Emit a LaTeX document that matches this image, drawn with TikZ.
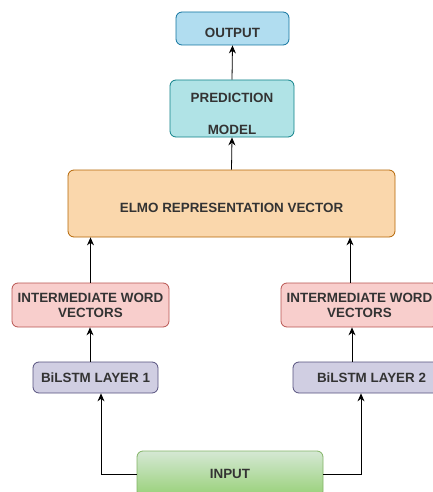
\documentclass[tikz,border=0pt]{standalone}
\usepackage{fontspec}
\setmainfont{Liberation Sans}
\usetikzlibrary{arrows.meta,calc}

\definecolor{outfill}{HTML}{B1DDF0}\definecolor{outline}{HTML}{10739E}
\definecolor{predfill}{HTML}{B0E3E6}\definecolor{predline}{HTML}{0E8088}
\definecolor{elmofill}{HTML}{FAD7AC}\definecolor{elmoline}{HTML}{B46504}
\definecolor{iwfill}{HTML}{F8CECC}\definecolor{iwline}{HTML}{B85450}
\definecolor{lstmfill}{HTML}{D0CEE2}\definecolor{lstmline}{HTML}{56517E}
\definecolor{intop}{HTML}{D5E8D4}\definecolor{inbot}{HTML}{97D077}\definecolor{inline}{HTML}{82B366}
\definecolor{txt}{HTML}{333333}

\begin{document}
\begin{tikzpicture}[x=1pt,y=-1pt,
  box/.style={rectangle, rounded corners=6pt, line width=0.8pt, inner sep=0pt,
    align=center, text=txt, font=\fontsize{13.4}{15}\selectfont\bfseries},
  % single-line label sitting a little below the box centre
  lowtext/.style={text height=17.6pt, text depth=0pt},
  arr/.style={-{Stealth[length=8pt,width=7pt]}, line width=0.8pt, black}]
  \useasboundingbox (0,0) rectangle (433,492);

  % top of the stack
  \node[box, lowtext, fill=outfill, draw=outline, minimum width=113pt, minimum height=33pt]
    (out) at (232.5,28.5) {OUTPUT};
  \node[box, fill=predfill, draw=predline, minimum width=124pt, minimum height=57pt]
    (pred) at (232,108.5) {};
  \node[text=txt, font=\fontsize{13.4}{32}\selectfont\bfseries, align=center]
    (predtext) at (232,114) {PREDICTION\\MODEL};
  \node[box, lowtext, fill=elmofill, draw=elmoline, minimum width=327pt, minimum height=67pt]
    (elmo) at (231.5,203.5) {ELMO REPRESENTATION VECTOR};

  % two branches
  \node[box, fill=iwfill, draw=iwline, minimum width=157pt, minimum height=44pt]
    (iw1) at (90.5,305) {INTERMEDIATE WORD\\VECTORS};
  \node[box, fill=iwfill, draw=iwline, minimum width=157pt, minimum height=44pt]
    (iw2) at (359.5,305) {INTERMEDIATE WORD\\VECTORS};
  \node[box, fill=lstmfill, draw=lstmline, minimum width=125pt, minimum height=31pt]
    (bl1) at (95.5,377.5) {BiLSTM LAYER 1};
  \node[box, fill=lstmfill, draw=lstmline, minimum width=157pt, minimum height=31pt]
    (bl2) at (371.5,377.5) {BiLSTM LAYER 2};

  % input
  \node[box, top color=intop, bottom color=inbot, draw=inline,
    minimum width=186pt, minimum height=46pt] (inp) at (230,474) {INPUT};

  % connector end points on the box edges
  \coordinate (iw2top) at ([xshift=-9.5pt]iw2.north);
  \coordinate (bl1top) at ([xshift=-5.5pt]bl1.north);
  \coordinate (bl2top) at ([xshift=-19.5pt]bl2.north);
  \coordinate (bl1bot) at ([xshift=5.5pt]bl1.south);
  \coordinate (bl2bot) at ([xshift=-10.5pt]bl2.south);

  % connectors
  \draw[arr] (pred.north) -- (out.south);
  \draw[arr] (elmo.north) -- (pred.south);
  \draw[arr] (iw1.north) -- (elmo.south -| iw1.north);
  \draw[arr] (iw2top) -- (elmo.south -| iw2top);
  \draw[arr] (bl1top) -- (iw1.south -| bl1top);
  \draw[arr] (bl2top) -- (iw2.south -| bl2top);
  \draw[arr] (inp.west) -| (bl1bot);
  \draw[arr] (inp.east) -| (bl2bot);
\end{tikzpicture}
\end{document}
